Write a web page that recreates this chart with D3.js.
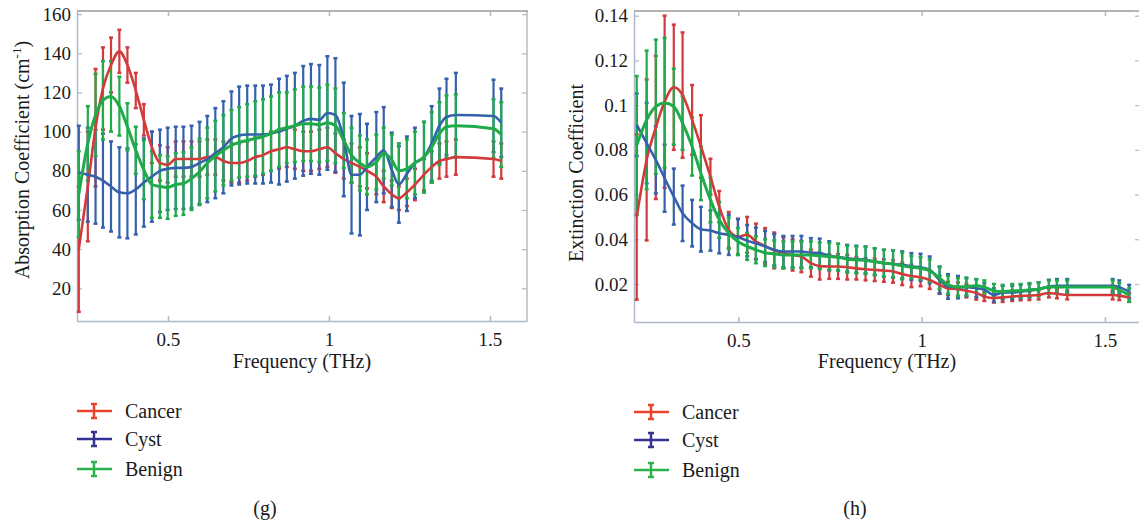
<!DOCTYPE html>
<html>
<head>
<meta charset="utf-8">
<script src="https://cdn.jsdelivr.net/npm/d3@7"></script>
<style>
  body { margin: 0; background: #fff; }
  text { font-family: "Liberation Serif", "Times New Roman", serif; fill: #1a1a1a; }
</style>
</head>
<body>
<svg id="chart"></svg>
<script>
// ---- data ----
// panel (g): absorption coefficient (cm-1)
var freqA = [0.223,0.251,0.275,0.298,0.323,0.349,0.374,0.400,0.425,0.450,0.475,0.499,0.524,0.548,0.573,0.598,0.622,0.647,0.672,0.697,
             0.721,0.746,0.771,0.795,0.820,0.845,0.869,0.894,0.920,0.944,0.970,0.995,1.020,1.046,1.070,1.096,1.118,1.147,1.170,1.195,
             1.217,1.242,1.267,1.295,1.319,1.343,1.365,1.394,1.511,1.535];
var cancerA = [40,72,102,122,134,141,134,121,106,92,84,83,86,86,86,86,87,87,85,84,
               84,85,87,88,90,91,92,91,90,90,91,92,89,86,84,82,80,77,72,68,
               66,69,73,78,82,85,86,87,86,85];
var cancerAErr = [32,28,30,21,14,11,9,9,8,8,9,9,9,9,9,9,9,9,10,10,
                  10,10,10,10,10,10,10,10,10,10,10,10,10,10,10,10,9,9,8,7,
                  6,7,8,8,8,9,9,9,9,9];
var cystA = [79,78,77,75,72,69,68.5,70.5,74,77,80,81,81.5,81.5,82,84,86,89,92,96.5,
             98,98.5,98.5,98.5,99,100,101.5,103,105.5,106.5,106,109.5,108.5,96,78,78,82,87,90.5,80.5,
             73,78.5,84,87,94,103,107.5,108.5,108,104.5];
var cystAErr = [24,24,24,24,23,23,23,23,22.5,23,21,21,21,21,21,21,22,23,23.5,24,
                25,25,25,25,25,27,27,27,28,28,28,29,29,29,30,31,22,23,22,19,
                19.5,19,18,18,19,19,19.5,21.5,18.5,17.5];
var benignA = [68,94,108.5,116,118,113,102.5,90.5,80.5,73,72,71.5,73,73.5,76,79.5,84,87.5,90.5,93,
               94.5,95.5,96.5,97.5,99,101,102,103,104,104,103.5,104.5,103,95.5,88,84,82,84.5,89,85.5,
               80,81,84,87,92,99,102.5,103,101.5,98.5];
var benignAErr = [22,19,21,20,18,15,12,12,15,17,16,16,16,16,16,17,18,18,18,18,
                  18,18.5,19,19,19,19,18,18.5,19,19,19,19.5,19,14,14,14,14,14,13,13,
                  14,15,16,18,18,16,16,16,15,16.5];

// panel (h): extinction coefficient
var freqE = [0.223,0.250,0.275,0.299,0.324,0.348,0.374,0.398,0.424,0.448,0.474,0.499,0.524,0.548,0.573,0.598,0.623,0.648,0.672,0.698,
             0.722,0.748,0.772,0.797,0.822,0.847,0.872,0.897,0.922,0.947,0.972,0.997,1.022,1.049,1.072,1.099,1.122,1.149,1.171,1.197,
             1.221,1.247,1.270,1.294,1.319,1.347,1.369,1.397,1.521,1.539,1.566];
var cancerE = [0.050,0.0755,0.090,0.1015,0.108,0.1045,0.0934,0.0815,0.0680,0.0546,0.0442,0.0412,0.042,0.039,0.037,0.035,0.034,0.033,0.0323,0.0293,
               0.028,0.0278,0.0278,0.0275,0.027,0.0266,0.0263,0.026,0.0256,0.0245,0.0236,0.023,0.0218,0.0196,0.018,0.0177,0.017,0.016,0.0144,0.0137,
               0.014,0.0144,0.0147,0.0148,0.0151,0.016,0.0156,0.0151,0.0151,0.0148,0.014];
var cancerEErr = [0.037,0.036,0.032,0.0385,0.028,0.028,0.0156,0.014,0.008,0.007,0.008,0.008,0.008,0.008,0.008,0.008,0.007,0.007,0.007,0.006,
                  0.006,0.0055,0.0055,0.0055,0.005,0.005,0.005,0.005,0.005,0.005,0.005,0.004,0.004,0.004,0.003,0.003,0.003,0.003,0.002,0.002,
                  0.002,0.002,0.002,0.002,0.002,0.002,0.002,0.002,0.002,0.002,0.002];
var cystE = [0.0912,0.083,0.0755,0.0673,0.0591,0.0516,0.0472,0.0445,0.0439,0.0427,0.042,0.041,0.0394,0.0382,0.0368,0.0353,0.0345,0.0345,0.0345,0.034,
             0.0338,0.0326,0.032,0.0315,0.0311,0.0308,0.030,0.0293,0.029,0.0286,0.0278,0.0275,0.0263,0.0218,0.0189,0.0186,0.0186,0.0181,0.0174,0.0151,
             0.0162,0.0162,0.0166,0.017,0.0177,0.0189,0.0192,0.0192,0.0192,0.0186,0.0166];
var cystEErr = [0.014,0.018,0.015,0.015,0.0125,0.0124,0.0104,0.010,0.009,0.009,0.009,0.008,0.007,0.007,0.007,0.007,0.007,0.007,0.007,0.0065,
                0.0065,0.0065,0.006,0.006,0.006,0.006,0.006,0.006,0.006,0.006,0.006,0.006,0.006,0.006,0.0055,0.005,0.004,0.004,0.003,0.003,
                0.003,0.003,0.003,0.003,0.003,0.003,0.003,0.003,0.003,0.003,0.003];
var benignE = [0.082,0.0934,0.0993,0.101,0.0993,0.092,0.0815,0.0695,0.0576,0.0487,0.0427,0.039,0.0368,0.0353,0.034,0.0335,0.033,0.033,0.033,0.033,
               0.0326,0.0323,0.032,0.0311,0.0308,0.0305,0.030,0.0293,0.029,0.0281,0.0275,0.027,0.026,0.0226,0.0196,0.0186,0.0189,0.0192,0.0186,0.017,
               0.0166,0.017,0.017,0.0174,0.0177,0.0186,0.0186,0.0186,0.0186,0.0174,0.0151];
var benignEErr = [0.031,0.031,0.030,0.029,0.017,0.012,0.013,0.012,0.010,0.008,0.007,0.006,0.006,0.006,0.006,0.006,0.006,0.006,0.006,0.006,
                  0.006,0.006,0.006,0.006,0.006,0.006,0.006,0.006,0.006,0.006,0.005,0.005,0.005,0.005,0.004,0.004,0.004,0.003,0.003,0.003,
                  0.003,0.003,0.003,0.003,0.003,0.003,0.003,0.003,0.003,0.003,0.003];

var seriesNames = ["Cancer", "Cyst", "Benign"];
var xTicks = [0.5, 1, 1.5];
var xTickLabels = ["0.5", "1", "1.5"];
var yTicksA = [20, 40, 60, 80, 100, 120, 140, 160];
var yTickLabelsA = ["20", "40", "60", "80", "100", "120", "140", "160"];
var yTicksE = [0.02, 0.04, 0.06, 0.08, 0.1, 0.12, 0.14];
var yTickLabelsE = ["0.02", "0.04", "0.06", "0.08", "0.1", "0.12", "0.14"];

// ---- styles ----
var lineColors = ["#d23a3b", "#3560ab", "#1fab4a"];
var legendColors = ["#e8432f", "#34338f", "#2bb24c"];
var axisColor = "#aeb8cc";
var frameColor = "#9a9a9a";

var svg = d3.select("#chart").attr("width", 1139).attr("height", 522);

var drawPanel = function(cfg) {
  var x = d3.scaleLinear().domain(cfg.xDomain).range([cfg.left, cfg.right]);
  var y = d3.scaleLinear().domain(cfg.yDomain).range([cfg.bottom, cfg.top]);
  var g = svg.append("g");

  // frame (top / right) in grey
  g.append("line").attr("x1", cfg.left).attr("x2", cfg.right + 1).attr("y1", cfg.top).attr("y2", cfg.top)
    .attr("stroke", frameColor).attr("stroke-width", 1.5);
  g.append("line").attr("x1", cfg.right).attr("x2", cfg.right).attr("y1", cfg.top).attr("y2", cfg.bottom)
    .attr("stroke", frameColor).attr("stroke-width", 1);

  // mirror ticks
  g.append("g").attr("transform", "translate(0," + cfg.top + ")")
    .call(d3.axisTop(x).tickValues(xTicks).tickSize(-5).tickFormat(""))
    .call(function(a) { a.select(".domain").remove(); a.selectAll("line").attr("stroke", axisColor).attr("stroke-width", 1.5); });
  g.append("g").attr("transform", "translate(" + cfg.right + ",0)")
    .call(d3.axisRight(y).tickValues(cfg.yTicks).tickSize(-5).tickFormat(""))
    .call(function(a) { a.select(".domain").remove(); a.selectAll("line").attr("stroke", axisColor).attr("stroke-width", 1.2); });

  // bottom axis
  g.append("g").attr("transform", "translate(0," + cfg.bottom + ")")
    .call(d3.axisBottom(x).tickValues(xTicks).tickSizeInner(-5).tickSizeOuter(0).tickPadding(12)
          .tickFormat(function(d, i) { return xTickLabels[i]; }))
    .call(function(a) {
      a.select(".domain").attr("stroke", axisColor).attr("stroke-width", 1.5);
      a.selectAll("line").attr("stroke", axisColor).attr("stroke-width", 1.5);
      a.selectAll("text").attr("font-size", 19).attr("font-family", "Liberation Serif").attr("fill", "#1a1a1a");
    });

  // left axis
  g.append("g").attr("transform", "translate(" + cfg.left + ",0)")
    .call(d3.axisLeft(y).tickValues(cfg.yTicks).tickSizeInner(-5).tickSizeOuter(0).tickPadding(6)
          .tickFormat(function(d, i) { return cfg.yTickLabels[i]; }))
    .call(function(a) {
      a.select(".domain").attr("stroke", axisColor).attr("stroke-width", 1.5);
      a.selectAll("line").attr("stroke", axisColor).attr("stroke-width", 1.2);
      a.selectAll("text").attr("font-size", 19).attr("font-family", "Liberation Serif").attr("fill", "#1a1a1a");
    });

  var plot = g.append("g");

  // error bars for all series first
  cfg.series.forEach(function(s, si) {
    var pts = cfg.freq.map(function(f, i) { return { f: f, m: s.mean[i], e: s.err[i] }; });
    var bars = plot.append("g").attr("stroke", lineColors[si]).attr("stroke-width", 2.2);
    bars.selectAll(".eb").data(pts).enter().append("line")
      .attr("x1", function(d) { return x(d.f); }).attr("x2", function(d) { return x(d.f); })
      .attr("y1", function(d) { return y(Math.max(d.m - d.e, cfg.yDomain[0])); })
      .attr("y2", function(d) { return y(d.m + d.e); });
    [-1, 1].forEach(function(sign) {
      bars.selectAll(".cap" + sign).data(pts).enter().append("line")
        .attr("x1", function(d) { return x(d.f) - 2; }).attr("x2", function(d) { return x(d.f) + 2; })
        .attr("y1", function(d) { return y(Math.max(d.m + sign * d.e, cfg.yDomain[0])); })
        .attr("y2", function(d) { return y(Math.max(d.m + sign * d.e, cfg.yDomain[0])); })
        .attr("stroke-width", 2.5);
    });
  });

  // mean lines on top
  cfg.series.forEach(function(s, si) {
    var line = d3.line()
      .x(function(d, i) { return x(cfg.freq[i]); })
      .y(function(d) { return y(d); })
      .curve(d3.curveMonotoneX);
    plot.append("path").datum(s.mean)
      .attr("d", line).attr("fill", "none")
      .attr("stroke", lineColors[si]).attr("stroke-width", si == 2 ? 3 : 2.6);
  });

  // y title
  var yt = g.append("text")
    .attr("transform", "translate(" + cfg.yTitleX + "," + cfg.yTitleY + ") rotate(-90)")
    .attr("text-anchor", "middle").attr("font-size", 20);
  cfg.yTitle(yt);

  // x title
  g.append("text").attr("x", (cfg.left + cfg.right) / 2).attr("y", 368)
    .attr("text-anchor", "middle").attr("font-size", 20).text("Frequency (THz)");

  // legend
  var leg = g.append("g").attr("transform", "translate(" + cfg.left + ",0)");
  seriesNames.forEach(function(name, i) {
    var ly = cfg.legendY[i];
    var item = leg.append("g").attr("stroke", legendColors[i]).attr("stroke-width", 2.5);
    item.append("line").attr("x1", 0).attr("x2", 35).attr("y1", ly).attr("y2", ly);
    item.append("line").attr("x1", 17).attr("x2", 17).attr("y1", ly - 7).attr("y2", ly + 7);
    item.append("line").attr("x1", 14).attr("x2", 20).attr("y1", ly - 7).attr("y2", ly - 7);
    item.append("line").attr("x1", 14).attr("x2", 20).attr("y1", ly + 7).attr("y2", ly + 7);
    leg.append("text").attr("x", 48).attr("y", ly + 7).attr("font-size", 20).text(name);
  });

  // panel letter
  g.append("text").attr("x", cfg.letterX).attr("y", 515).attr("text-anchor", "middle")
    .attr("font-size", 20).text(cfg.letter);
};

drawPanel({
  left: 77, right: 527, top: 11, bottom: 321,
  xDomain: [0.2174, 1.615], yDomain: [3.3, 161.6],
  freq: freqA,
  series: [
    { mean: cancerA, err: cancerAErr },
    { mean: cystA, err: cystAErr },
    { mean: benignA, err: benignAErr }
  ],
  yTicks: yTicksA, yTickLabels: yTickLabelsA,
  yTitleX: 29, yTitleY: 160,
  yTitle: function(t) {
    t.append("tspan").text("Absorption Coefficient (cm");
    t.append("tspan").attr("dy", -8).attr("font-size", 13).text("-1");
    t.append("tspan").attr("dy", 8).text(")");
  },
  legendY: [411, 439, 469],
  letter: "(g)", letterX: 265
});

drawPanel({
  left: 634, right: 1140, top: 11, bottom: 322,
  xDomain: [0.2155, 1.5955], yDomain: [0.003, 0.1421],
  freq: freqE,
  series: [
    { mean: cancerE, err: cancerEErr },
    { mean: cystE, err: cystEErr },
    { mean: benignE, err: benignEErr }
  ],
  yTicks: yTicksE, yTickLabels: yTickLabelsE,
  yTitleX: 583, yTitleY: 173,
  yTitle: function(t) { t.text("Extinction Coefficient"); },
  legendY: [412, 440, 470],
  letter: "(h)", letterX: 855
});
</script>
</body>
</html>
